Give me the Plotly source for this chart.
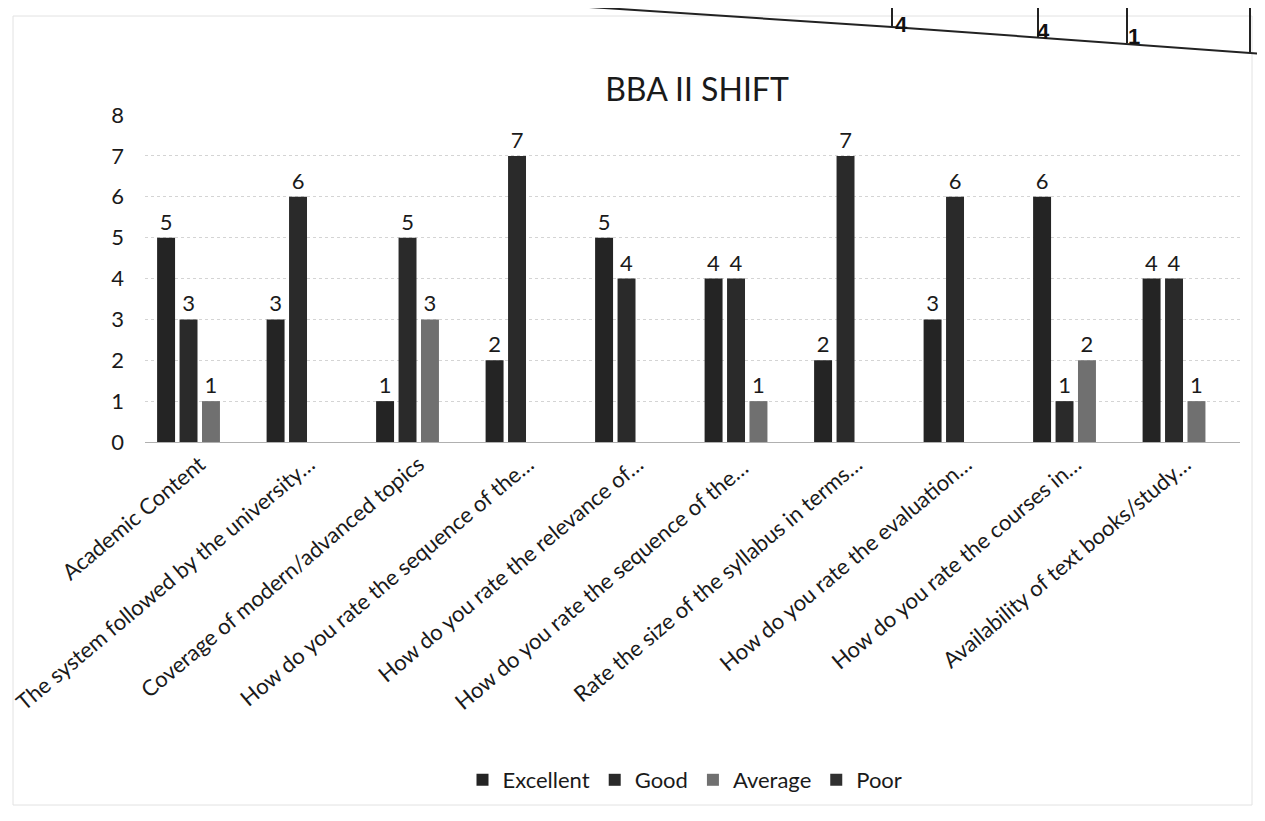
import plotly.graph_objects as go

categories = [
    "Academic Content",
    "The system followed by the university…",
    "Coverage of modern/advanced topics",
    "How do you rate the sequence of the…",
    "How do you rate the relevance of…",
    "How do you rate the sequence of the… ",
    "Rate the size of the syllabus in terms…",
    "How do you rate the evaluation…",
    "How do you rate the courses in…",
    "Availability of text books/study…",
]
excellent = [5, 3, 1, 2, 5, 4, 2, 3, 6, 4]
good = [3, 6, 5, 7, 4, 4, 7, 6, 1, 4]
average = [1, 0, 3, 0, 0, 1, 0, 0, 2, 1]
poor = [0, 0, 0, 0, 0, 0, 0, 0, 0, 0]
series_names = ["Excellent", "Good", "Average", "Poor"]
y_ticks = [0, 1, 2, 3, 4, 5, 6, 7, 8]
table_texts = ["4", "4", "1"]

OFF = 8  # page body margin
W, H = 1265 - 2 * OFF, 821 - 2 * OFF
L, R, T, B = 145, 1240, 115, 442  # plot area in reference pixel coords


def px(x):
    return (x - L) / (R - L)


def py(y):
    return (B - y) / (B - T)


FONT = "Lato, 'Open Sans', sans-serif"
colors = ["#242424", "#2a2a2a", "#707070", "#303030"]

fig = go.Figure()
for name, vals, col in zip(series_names, [excellent, good, average, poor], colors):
    fig.add_trace(go.Bar(
        name=name,
        x=categories,
        y=vals,
        marker=dict(color=col, line=dict(width=0)),
        text=[str(v) if v else "" for v in vals],
        textposition="outside",
        textfont=dict(size=22, color="#1a1a1a", family=FONT),
        cliponaxis=False,
    ))

TL = dict(color="#222222", width=2)
shapes = [
    dict(type="rect", xref="paper", yref="paper",
         x0=px(13), x1=px(1252), y0=py(805), y1=py(16),
         line=dict(color="#e2e2e2", width=1), layer="below"),
    dict(type="path", xref="paper", yref="paper",
         path=f"M {px(483)} {py(0)} L {px(892)} {py(27)} L {px(1265)} {py(54)}",
         line=TL),
    dict(type="line", xref="paper", yref="paper",
         x0=px(892), x1=px(892), y0=py(0), y1=py(27), line=TL),
    dict(type="line", xref="paper", yref="paper",
         x0=px(1038), x1=px(1038), y0=py(0), y1=py(37), line=TL),
    dict(type="line", xref="paper", yref="paper",
         x0=px(1127), x1=px(1127), y0=py(0), y1=py(43), line=TL),
    dict(type="line", xref="paper", yref="paper",
         x0=px(1250), x1=px(1250), y0=py(0), y1=py(52), line=TL),
    dict(type="line", xref="paper", yref="paper",
         x0=px(1127), x1=px(1265), y0=py(0), y1=py(7), line=TL),
]

annotations = []
for t, (ax, ay) in zip(table_texts, [(910, 10), (1052, 17), (1142, 22)]):
    annotations.append(dict(text=f"<b>{t}</b>", xref="paper", yref="paper",
                            x=px(ax), y=py(ay), showarrow=False,
                            font=dict(size=22, color="#111", family="Liberation Sans")))

fig.update_layout(
    width=W, height=H,
    margin=dict(l=L - OFF, r=W - (R - OFF), t=T - OFF, b=H - (B - OFF), autoexpand=False),
    paper_bgcolor="white", plot_bgcolor="white",
    title=dict(text="BBA II SHIFT", x=(697 - OFF) / W, xanchor="center",
               y=1 - (90 - OFF) / H, yanchor="middle",
               font=dict(size=32, color="#1a1a1a", family=FONT)),
    barmode="group", bargap=0.18, bargroupgap=0.2,
    showlegend=True,
    legend=dict(orientation="h", x=px(685), xanchor="center", y=py(780), yanchor="middle",
                font=dict(size=22, color="#1a1a1a", family=FONT),
                itemwidth=30, traceorder="normal"),
    shapes=shapes,
    annotations=annotations,
    font=dict(family=FONT, color="#1a1a1a"),
)
fig.update_yaxes(range=[0, 8], tickvals=y_ticks, showgrid=True,
                 gridcolor="#d4d4d4", gridwidth=1, griddash="dot",
                 zeroline=False, showline=False, ticks="",
                 tickfont=dict(size=22, color="#1a1a1a", family=FONT),
                 ticklabelstandoff=20)
fig.update_xaxes(tickangle=-40, showline=True, linecolor="#b0b0b0", linewidth=1,
                 ticks="", tickfont=dict(size=22, color="#1a1a1a", family=FONT),
                 automargin=False)

fig.write_html("out.html")
